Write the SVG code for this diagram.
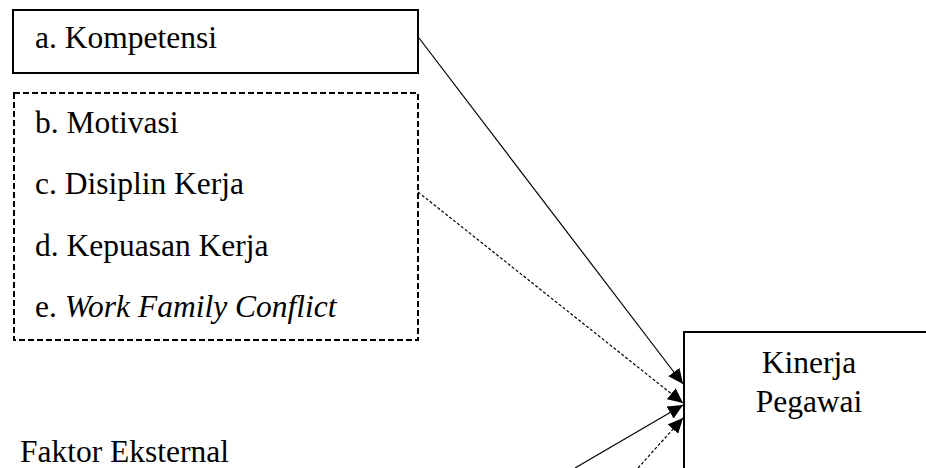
<svg xmlns="http://www.w3.org/2000/svg" width="926" height="468" viewBox="0 0 926 468">
<style>
text{font-family:'Liberation Serif','Times New Roman',serif;font-size:31.5px;fill:#000}
.box{fill:#fff;stroke:#000;stroke-width:2}
.dbox{fill:#fff;stroke:#000;stroke-width:2;stroke-dasharray:6 3}
.c{stroke:#000;stroke-width:1.2;fill:none}
.d{stroke-dasharray:3 2}
</style>
<defs>
<marker id="ah" markerUnits="userSpaceOnUse" markerWidth="16" markerHeight="14" refX="15" refY="7" orient="auto">
<path d="M0,0 L15,7 L0,14 Z" fill="#000"/>
</marker>
</defs>
<rect width="926" height="468" fill="#fff"/>
<g id="kompetensi">
<rect class="box" x="13" y="10" width="405" height="63"/>
<text x="35" y="48">a. Kompetensi</text>
</g>
<g id="internal">
<rect class="dbox" x="14" y="93" width="404" height="247"/>
<text x="35" y="133">b. Motivasi</text>
<text x="35" y="194">c. Disiplin Kerja</text>
<text x="35" y="256">d. Kepuasan Kerja</text>
<text x="35" y="317">e. <tspan font-style="italic">Work Family Conflict</tspan></text>
</g>
<g id="kinerja">
<rect class="box" x="684" y="332" width="260" height="160"/>
<text x="809" y="373" text-anchor="middle">Kinerja</text>
<text x="809" y="412" text-anchor="middle">Pegawai</text>
</g>
<g id="eksternal">
<text x="20" y="462">Faktor Eksternal</text>
</g>
<g id="connectors">
<line class="c" x1="419" y1="38" x2="683" y2="384" marker-end="url(#ah)"/>
<line class="c d" x1="418" y1="192" x2="683" y2="403" marker-end="url(#ah)"/>
<line class="c" x1="575" y1="468" x2="683" y2="405" marker-end="url(#ah)"/>
<line class="c d" x1="638" y1="468" x2="683" y2="418" marker-end="url(#ah)"/>
</g>
</svg>
